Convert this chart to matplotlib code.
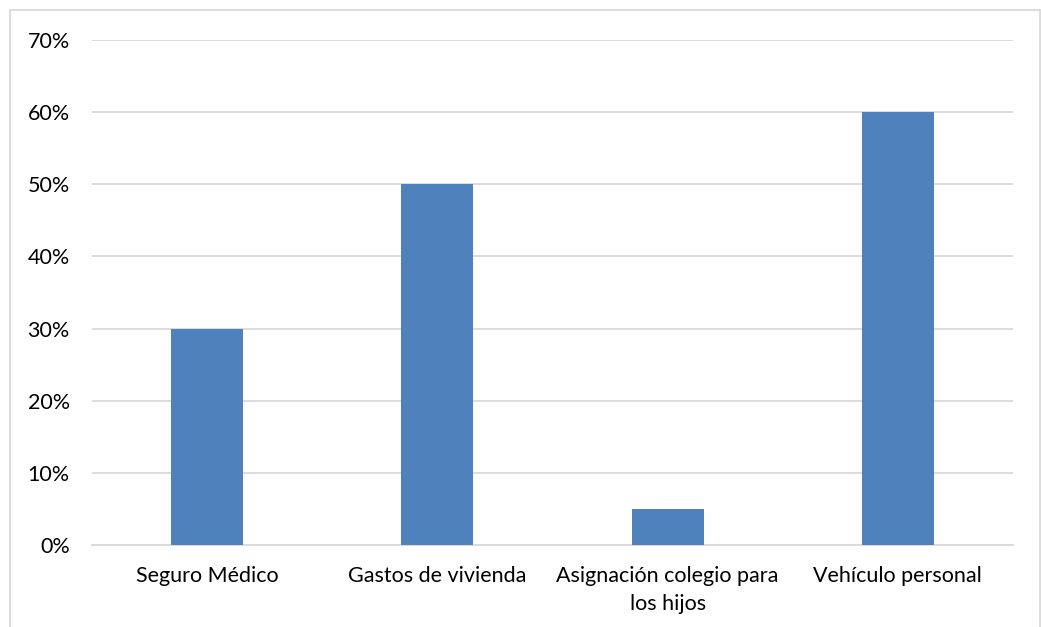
import matplotlib
matplotlib.use("Agg")
from matplotlib import pyplot as plt
from matplotlib.patches import Rectangle
from matplotlib.ticker import PercentFormatter

categorias = ["Seguro Médico", "Gastos de vivienda", "Asignación colegio para\nlos hijos", "Vehículo personal"]
valores = [30, 50, 5, 60]
ticks_y = [0, 10, 20, 30, 40, 50, 60, 70]

plt.rcParams['font.family'] = ['Lato', 'DejaVu Sans']

fig = plt.figure(figsize=(10.41, 6.27), dpi=100)
ax = fig.add_axes([92/1041, 1-545/627, (1013-92)/1041, (545-40)/627])

x = range(len(categorias))
ax.bar(x, valores, width=0.313, color="#4F81BD", zorder=3)

ax.set_xlim(-0.5, len(categorias)-0.5)
ax.set_ylim(0, 70)
ax.set_yticks(ticks_y)
ax.yaxis.set_major_formatter(PercentFormatter(decimals=0))
ax.set_xticks(list(x))
ax.set_xticklabels(categorias, fontsize=15.5, color="#000000", linespacing=1.5)
ax.tick_params(axis="y", labelsize=15.5, length=0, pad=16)
ax.tick_params(axis="x", length=0, pad=15)
ax.grid(axis="y", color="#D9D9D9", linewidth=1.3, zorder=0)

for lado in ["top", "right", "left"]:
    ax.spines[lado].set_visible(False)
ax.spines["bottom"].set_color("#D9D9D9")
ax.spines["bottom"].set_linewidth(1.3)

# marco del grafico
fig.patches.append(Rectangle((10/1041, -0.01), 1030/1041, 1-10/627+0.01, transform=fig.transFigure,
                             fill=False, edgecolor="#D9D9D9", linewidth=1.3))

fig.savefig("out.png", dpi=100)
